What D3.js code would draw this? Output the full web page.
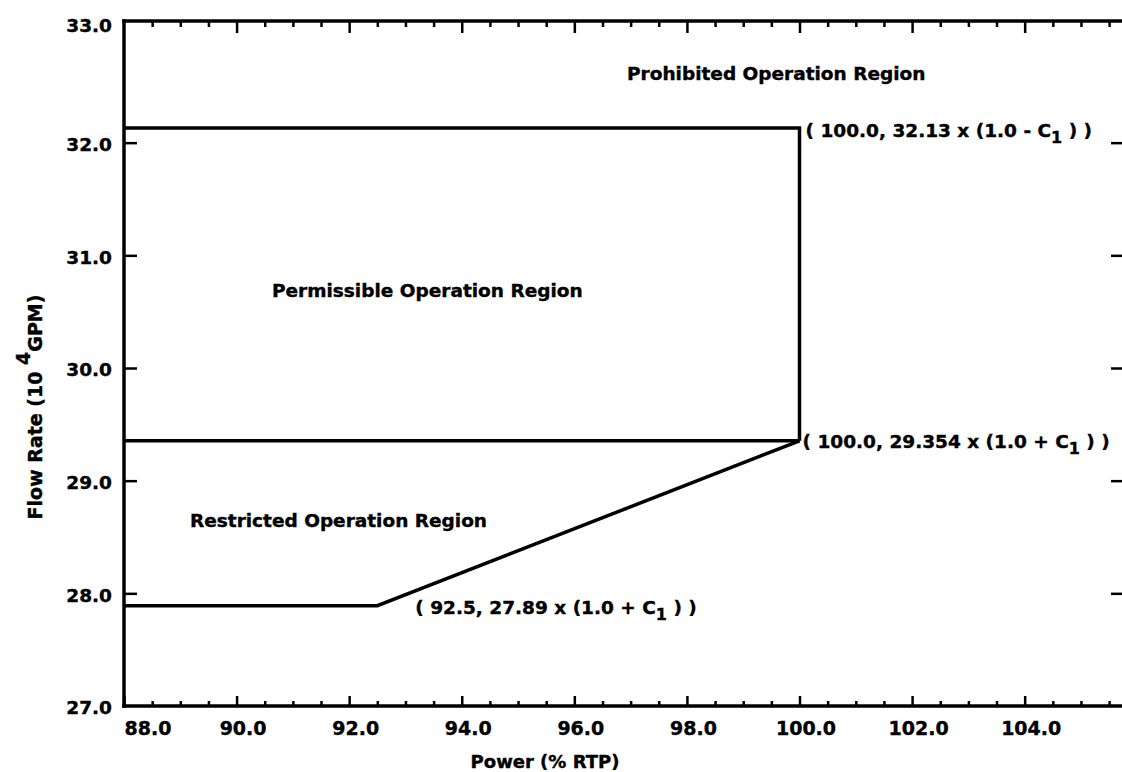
<!DOCTYPE html>
<html>
<head>
<meta charset="utf-8">
<script src="https://cdn.jsdelivr.net/npm/d3@7"></script>
<style>
  body { margin: 0; background: #fff; }
  svg text { font-family: "DejaVu Sans", sans-serif; font-weight: bold; fill: #000; stroke: #000; stroke-width: 0.4px; }
</style>
</head>
<body>
<svg id="main_svg" width="1122" height="772"></svg>
<script>
// tick values
const xMajorTicks = [88, 90, 92, 94, 96, 98, 100, 102, 104];
const yLabelTicks = [27, 28, 29, 30, 31, 32, 33];
const yInnerTicks = [28, 29, 30, 31, 32];

// boundary lines: [power %RTP, flow 10^4 gpm]
const upperBoundary = [[88.0, 32.13], [100.0, 32.13], [100.0, 29.354]];
const permissibleFloor = [[88.0, 29.354], [100.0, 29.354]];
const restrictedFloor = [[88.0, 27.89], [92.5, 27.89], [100.0, 29.354]];

// region names
const regionNames = ["Prohibited Operation Region", "Permissible Operation Region", "Restricted Operation Region"];

// corner points with their labels
const cornerPoints = [
  {px: 100.0, py: 32.13, pre: "( 100.0, 32.13 x (1.0 - C", post: " ) )"},
  {px: 100.0, py: 29.354, pre: "( 100.0, 29.354 x (1.0 + C", post: " ) )"},
  {px: 92.5, py: 27.89, pre: "( 92.5, 27.89 x (1.0 + C", post: " ) )"}
];

const frame = {left: 124, right: 1126, top: 21, bottom: 706};
const x = d3.scaleLinear().domain([88, 105.8]).range([frame.left, frame.right]);
const y = d3.scaleLinear().domain([27, 33]).range([frame.bottom, 30]);
const xMinorTicks = d3.range(88, 105.8, 0.5).filter(v => !xMajorTicks.includes(v));

const svg = d3.select("#main_svg");

function styleAxis(g, fs) {
  g.select(".domain").remove();
  g.attr("font-family", "DejaVu Sans, sans-serif").attr("font-size", fs).attr("font-weight", "bold");
  g.selectAll(".tick line").attr("stroke", "#000").attr("stroke-width", 2.5);
  g.selectAll(".tick text").attr("fill", "#000");
}

// bottom axis
svg.append("g").attr("transform", "translate(0," + frame.bottom + ")")
  .call(d3.axisBottom(x).tickValues(xMinorTicks).tickSize(-5).tickFormat(""))
  .call(g => styleAxis(g, 19));
svg.append("g").attr("transform", "translate(0," + frame.bottom + ")")
  .call(d3.axisBottom(x).tickValues(xMajorTicks).tickSize(-10).tickPadding(16).tickFormat(d3.format(".1f")))
  .call(g => styleAxis(g, 19))
  .call(g => g.selectAll(".tick text").attr("dx", d => d === 88 ? 0 : 6)
    .attr("text-anchor", d => d === 88 ? "start" : "middle"));

// top axis (ticks only)
svg.append("g").attr("transform", "translate(0," + frame.top + ")")
  .call(d3.axisTop(x).tickValues(xMinorTicks).tickSize(-6).tickFormat(""))
  .call(g => styleAxis(g, 19));
svg.append("g").attr("transform", "translate(0," + frame.top + ")")
  .call(d3.axisTop(x).tickValues(xMajorTicks.slice(1)).tickSize(-12).tickFormat(""))
  .call(g => styleAxis(g, 19));

// left axis
svg.append("g").attr("transform", "translate(" + frame.left + ",0)")
  .call(d3.axisLeft(y).tickValues(yInnerTicks).tickSize(-13).tickFormat(""))
  .call(g => styleAxis(g, 18.5));
svg.append("g").attr("transform", "translate(" + frame.left + ",0)")
  .call(d3.axisLeft(y).tickValues(yLabelTicks).tickSize(0).tickPadding(12).tickFormat(d3.format(".1f")))
  .call(g => styleAxis(g, 18.5))
  .call(g => g.selectAll(".tick text").attr("dy", d => d === 33 ? "0.1em" : "0.42em"));

// right side ticks (axis line cut off by the page edge)
svg.append("g").attr("transform", "translate(1124,0)")
  .call(d3.axisRight(y).tickValues(yInnerTicks).tickSize(-13).tickFormat(""))
  .call(g => styleAxis(g, 18));

// frame lines
const frameLines = [
  [[frame.left, frame.top], [frame.left, frame.bottom]],
  [[frame.left, frame.bottom], [1122, frame.bottom]],
  [[frame.left, frame.top], [1122, frame.top]]
];
svg.append("g").selectAll("path").data(frameLines).enter().append("path")
  .attr("d", d3.line())
  .attr("fill", "none").attr("stroke", "#000").attr("stroke-width", 3.5)
  .attr("stroke-linecap", "square");

// boundary lines
const line = d3.line().x(d => x(d[0])).y(d => y(d[1]));
svg.append("g").selectAll("path").data([upperBoundary, permissibleFloor, restrictedFloor]).enter().append("path")
  .attr("d", line)
  .attr("fill", "none").attr("stroke", "#000").attr("stroke-width", 3.5)
  .attr("stroke-linejoin", "miter");

// region names
const regionPos = [[627, 80], [272, 297], [190, 527]];
svg.append("g").selectAll("text").data(regionNames).enter().append("text")
  .attr("x", (d, i) => regionPos[i][0]).attr("y", (d, i) => regionPos[i][1])
  .attr("font-size", 18.5).text(d => d);

// corner labels
const cornerOffset = [[6, 9], [3, 7], [38, 8]];
const cl = svg.append("g").selectAll("text").data(cornerPoints).enter().append("text")
  .attr("x", (d, i) => x(d.px) + cornerOffset[i][0])
  .attr("y", (d, i) => y(d.py) + cornerOffset[i][1])
  .attr("font-size", 18.5);
cl.append("tspan").text(d => d.pre);
cl.append("tspan").attr("dy", 6).attr("font-size", 16).text("1");
cl.append("tspan").attr("dy", -6).text(d => d.post);

// axis titles
svg.append("text").attr("x", 545).attr("y", 768).attr("text-anchor", "middle")
  .attr("font-size", 18).text("Power (% RTP)");
const yt = svg.append("text").attr("transform", "translate(42,407) rotate(-90)")
  .attr("text-anchor", "middle").attr("font-size", 19);
yt.append("tspan").text("Flow Rate (10 ");
yt.append("tspan").attr("dy", -12).text("4");
yt.append("tspan").attr("dy", 12).text("GPM)");
</script>
</body>
</html>
